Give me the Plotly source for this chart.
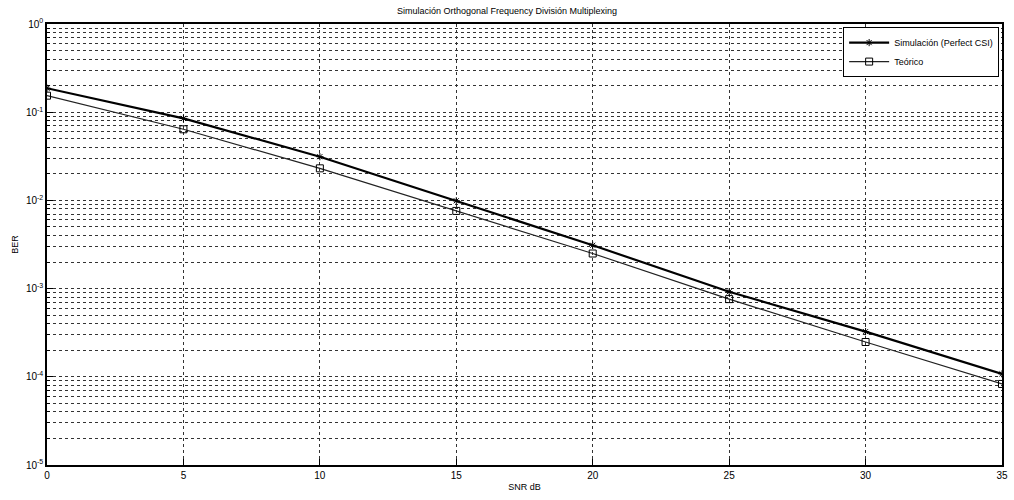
import plotly.graph_objects as go

snr_db = [0, 5, 10, 15, 20, 25, 30, 35]
ber_sim = [0.187, 0.085, 0.0313, 0.0099, 0.0031, 0.00092, 0.000325, 0.000108]
ber_theory = [0.154, 0.064, 0.0231, 0.0076, 0.0025, 0.00076, 0.000248, 0.000083]

decades = [-5, -4, -3, -2, -1, 0]
x_ticks = [0, 5, 10, 15, 20, 25, 30, 35]

font = "Liberation Sans, Arial, sans-serif"

fig = go.Figure()
fig.add_trace(go.Scatter(
    x=snr_db, y=ber_sim, mode="lines+markers",
    name="Simulación (Perfect CSI)",
    line=dict(color="black", width=2.2),
    marker=dict(symbol="asterisk-open", size=6, color="black", line=dict(width=1, color="black")),
))
fig.add_trace(go.Scatter(
    x=snr_db, y=ber_theory, mode="lines+markers",
    name="Teórico",
    line=dict(color="#222", width=1.2),
    marker=dict(symbol="square-open", size=7, color="black", line=dict(width=1, color="black")),
))

fig.update_layout(
    width=1014, height=500,
    margin=dict(l=47, r=6, t=24, b=35),
    paper_bgcolor="white", plot_bgcolor="white",
    font=dict(family=font, size=9, color="black"),
    title=dict(text="Simulación Orthogonal Frequency División Multiplexing",
               x=0.5, xanchor="center", y=0.985, yanchor="top",
               font=dict(size=9, color="black")),
    legend=dict(x=0.997, y=0.993, xanchor="right", yanchor="top",
                bgcolor="white", bordercolor="black", borderwidth=1,
                font=dict(size=9), tracegroupgap=0, itemwidth=40),
    showlegend=True,
)
fig.update_xaxes(
    range=[0, 35], tickvals=x_ticks, ticktext=[str(v) for v in x_ticks],
    showline=True, linecolor="black", linewidth=1.5, mirror=True,
    ticks="inside", ticklen=6, tickcolor="black",
    showgrid=True, gridcolor="#333", griddash="dot", gridwidth=1,
    zeroline=False,
    title=dict(text="SNR dB", standoff=4, font=dict(size=9)),
    tickfont=dict(size=10),
)
fig.update_yaxes(
    type="log", range=[-5, 0],
    tickvals=[10 ** d for d in decades],
    ticktext=[f"10<sup>{d}</sup>" for d in decades],
    showline=True, linecolor="black", linewidth=1.5, mirror=True,
    ticks="inside", ticklen=6, tickcolor="black",
    showgrid=True, gridcolor="#333", griddash="dot", gridwidth=1,
    minor=dict(dtick="D1", showgrid=True, gridcolor="#333", griddash="dot",
               gridwidth=1, ticks="inside", ticklen=3, tickcolor="black"),
    zeroline=False,
    title=dict(text="BER", standoff=6, font=dict(size=9)),
    tickfont=dict(size=10),
)

fig.write_html("out.html")
